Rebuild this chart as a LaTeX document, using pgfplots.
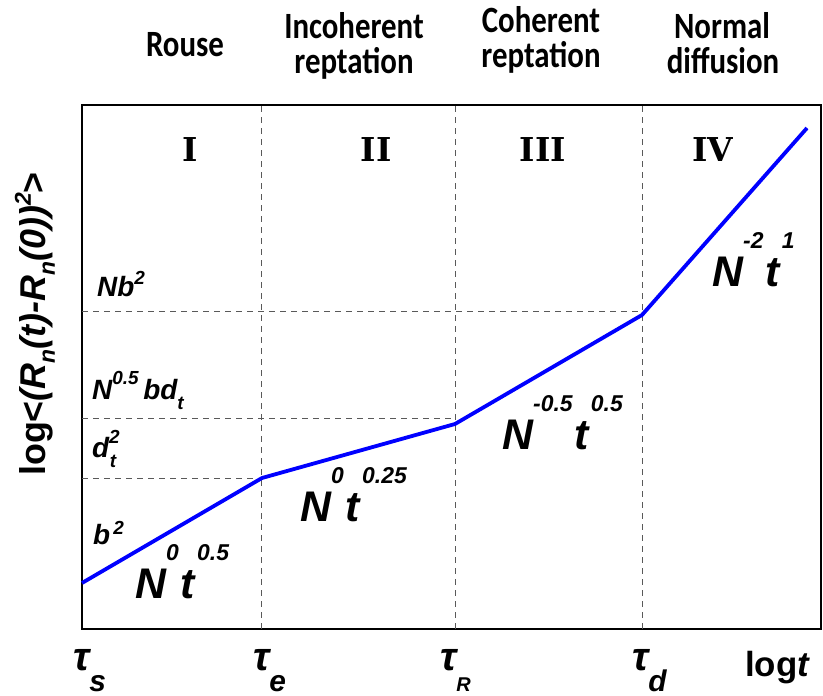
\documentclass[border=0pt]{standalone}
\usepackage{fontspec}
\setmainfont{Liberation Sans}
\newfontfamily\calibri{Carlito}
\newfontfamily\dvserif{DejaVu Serif}
\usepackage{pgfplots}
\pgfplotsset{compat=1.18}
\newcommand{\fs}[1]{\fontsize{#1}{#1}\selectfont}
\newcommand{\slope}[2]{{\fs{43}\bfseries\itshape N\raisebox{38bp}{\fs{23}#1}\hspace{2bp}t\raisebox{38bp}{\fs{23}\hspace{2bp}#2}}}
\newcommand{\taulab}[2]{{\bfseries\itshape{\fs{40}τ}\raisebox{-21bp}{\fs{#2}#1}}}
\newcommand{\ttl}[1]{\scalebox{1}[1.2]{#1}}
\begin{document}
\begin{tikzpicture}
\path[use as bounding box] (0,0) rectangle (823bp,696bp);
\begin{axis}[
  at={(82bp,67bp)}, anchor=south west,
  scale only axis, width=739bp, height=524bp,
  xmin=0, xmax=739, ymin=0, ymax=524,
  axis line style={line width=2.2bp, black},
  xtick=\empty, ytick=\empty,
  clip=false,
]
% vertical dashed region borders
\addplot[gray!70!black, line width=1bp, dash pattern=on 6bp off 5bp] coordinates {(179,0) (179,524)};
\addplot[gray!70!black, line width=1bp, dash pattern=on 6bp off 5bp] coordinates {(373,0) (373,524)};
\addplot[gray!70!black, line width=1bp, dash pattern=on 6bp off 5bp] coordinates {(560,0) (560,524)};
% horizontal dashed levels
\addplot[gray!70!black, line width=1bp, dash pattern=on 6bp off 5bp] coordinates {(0,150) (179,150)};
\addplot[gray!70!black, line width=1bp, dash pattern=on 6bp off 5bp] coordinates {(0,210) (373,210)};
\addplot[gray!70!black, line width=1bp, dash pattern=on 6bp off 5bp] coordinates {(0,317) (560,317)};
% MSD curve
\addplot[blue, line width=3.8bp, line join=round] coordinates {(0,46) (180,151) (373,205) (560,314) (725,501)};

% region numerals
\node[font=\dvserif\bfseries\fs{33}] at (axis cs:108,479) {I};
\node[font=\dvserif\bfseries\fs{33}] at (axis cs:294,479) {II};
\node[font=\dvserif\bfseries\fs{33}] at (axis cs:461,479) {III};
\node[font=\dvserif\bfseries\fs{33}] at (axis cs:631,479) {IV};

% regime titles
\node[anchor=base, font=\calibri\bfseries\fs{31}] at (axis cs:103,572) {\ttl{Rouse}};
\node[anchor=base, font=\calibri\bfseries\fs{31}] at (axis cs:272,590) {\ttl{Incoherent}};
\node[anchor=base, font=\calibri\bfseries\fs{31}] at (axis cs:272,555) {\ttl{reptation}};
\node[anchor=base, font=\calibri\bfseries\fs{31}] at (axis cs:459,596) {\ttl{Coherent}};
\node[anchor=base, font=\calibri\bfseries\fs{31}] at (axis cs:459,561) {\ttl{reptation}};
\node[anchor=base, font=\calibri\bfseries\fs{31}] at (axis cs:640,590) {\ttl{Normal}};
\node[anchor=base, font=\calibri\bfseries\fs{31}] at (axis cs:641,555) {\ttl{diffusion}};

% level labels
\node[anchor=base west, inner sep=0pt, font=\bfseries\itshape\fs{28}] at (axis cs:15,332) {Nb\raisebox{12bp}{\fs{19}2}};
\node[anchor=base west, inner sep=0pt, font=\bfseries\itshape\fs{28}] at (axis cs:10,229) {N\raisebox{15bp}{\fs{19}0.5}\,bd\raisebox{-10bp}{\fs{19}t}};
\node[anchor=base west, inner sep=0pt, font=\bfseries\itshape\fs{28}] at (axis cs:10,171) {d\raisebox{14bp}{\fs{19}2}\hspace{-10bp}\raisebox{-10bp}{\fs{19}t}};
\node[anchor=base west, inner sep=0pt, font=\bfseries\itshape\fs{28}] at (axis cs:11,84) {b\raisebox{10bp}{\fs{19}\,2}};

% scaling laws
\node[anchor=base west, inner sep=0pt] at (axis cs:53,31) {\slope{0}{0.5}};
\node[anchor=base west, inner sep=0pt] at (axis cs:218,107) {\slope{0}{0.25}};
\node[anchor=base west, inner sep=0pt] at (axis cs:420,179) {\slope{-0.5}{0.5}};
\node[anchor=base west, inner sep=0pt] at (axis cs:630,342) {\slope{-2}{1}};

% time labels
\node[anchor=base west, inner sep=0pt] at (axis cs:-9,-41) {\taulab{s}{30}};
\node[anchor=base west, inner sep=0pt] at (axis cs:171,-41) {\taulab{e}{30}};
\node[anchor=base west, inner sep=0pt] at (axis cs:358,-41) {\taulab{R}{20}};
\node[anchor=base west, inner sep=0pt] at (axis cs:550,-41) {\taulab{d}{30}};
\node[anchor=base west, inner sep=0pt, font=\bfseries\fs{35}] at (axis cs:663,-47) {log\textit{t}};

% y label
\node[rotate=90, font=\bfseries\fs{36}] at (axis cs:-47,305)
  {log<\textit{(R\raisebox{-9bp}{\fs{23}n}(t)-R\raisebox{-9bp}{\fs{23}n}(0))\raisebox{15bp}{\fs{23}2}}>};
\end{axis}
\end{tikzpicture}
\end{document}
